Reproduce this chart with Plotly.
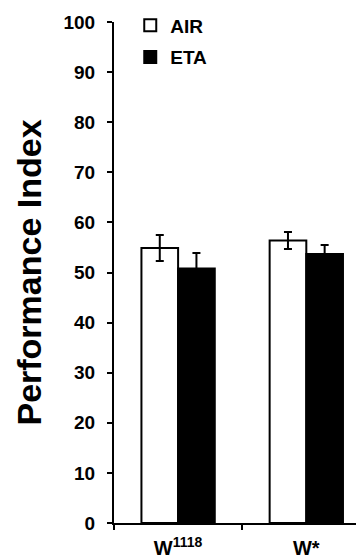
import plotly.graph_objects as go

categories = ["W<sup>1118</sup>", "W*"]
air_values = [54.9, 56.4]
air_errors = [2.6, 1.7]
eta_values = [50.8, 53.7]
eta_errors = [3.1, 1.8]
y_ticks = [0, 10, 20, 30, 40, 50, 60, 70, 80, 90, 100]

xpos = list(range(len(categories)))
FONT = "Liberation Sans, Arial, sans-serif"

fig = go.Figure()
fig.add_trace(go.Bar(
    x=xpos, y=air_values, name="AIR", legendgroup="a",
    marker=dict(color="white", line=dict(color="black", width=2)),
    error_y=dict(type="data", array=air_errors, visible=True,
                 color="black", thickness=2, width=4),
))
fig.add_trace(go.Bar(
    x=xpos, y=eta_values, name="ETA", legendgroup="b",
    marker=dict(color="black", line=dict(color="black", width=2)),
    error_y=dict(type="data", array=eta_errors, visible=True,
                 color="black", thickness=2, width=4),
))

# the page body adds an 8px margin, so the figure is sized 8px smaller
fig.update_layout(
    width=356, height=551,
    margin=dict(l=106, r=0, t=14, b=36, autoexpand=False),
    paper_bgcolor="white", plot_bgcolor="white",
    barmode="group", bargap=0.428, bargroupgap=0,
    font=dict(family=FONT, color="black"),
    showlegend=True,
    legend=dict(
        x=0.065, y=1.031, xanchor="left", yanchor="top",
        font=dict(family=FONT, size=19, weight="bold", color="black"),
        tracegroupgap=4, bgcolor="rgba(0,0,0,0)",
    ),
    xaxis=dict(
        range=[-0.5, 1.45],
        tickmode="array", tickvals=xpos, ticktext=categories,
        ticks="", showgrid=False, zeroline=False,
        showline=True, linecolor="black", linewidth=2,
        tickfont=dict(family=FONT, size=20, weight="bold", color="black"),
        ticklabelstandoff=6,
        minor=dict(tickmode="array", tickvals=[-0.5, 0.5], ticks="outside",
                   ticklen=5, tickwidth=2, tickcolor="black", showgrid=False),
    ),
    yaxis=dict(
        range=[0, 100],
        tickmode="array", tickvals=y_ticks,
        ticks="outside", ticklen=5, tickwidth=2, tickcolor="black",
        showgrid=False, zeroline=False,
        showline=True, linecolor="black", linewidth=2,
        tickfont=dict(family=FONT, size=19, weight="bold", color="black"),
        ticklabelstandoff=8,
        title=dict(text="Performance Index", standoff=12,
                   font=dict(family=FONT, size=34, weight="bold", color="black")),
        automargin=False,
    ),
)

fig.write_html("out.html")
